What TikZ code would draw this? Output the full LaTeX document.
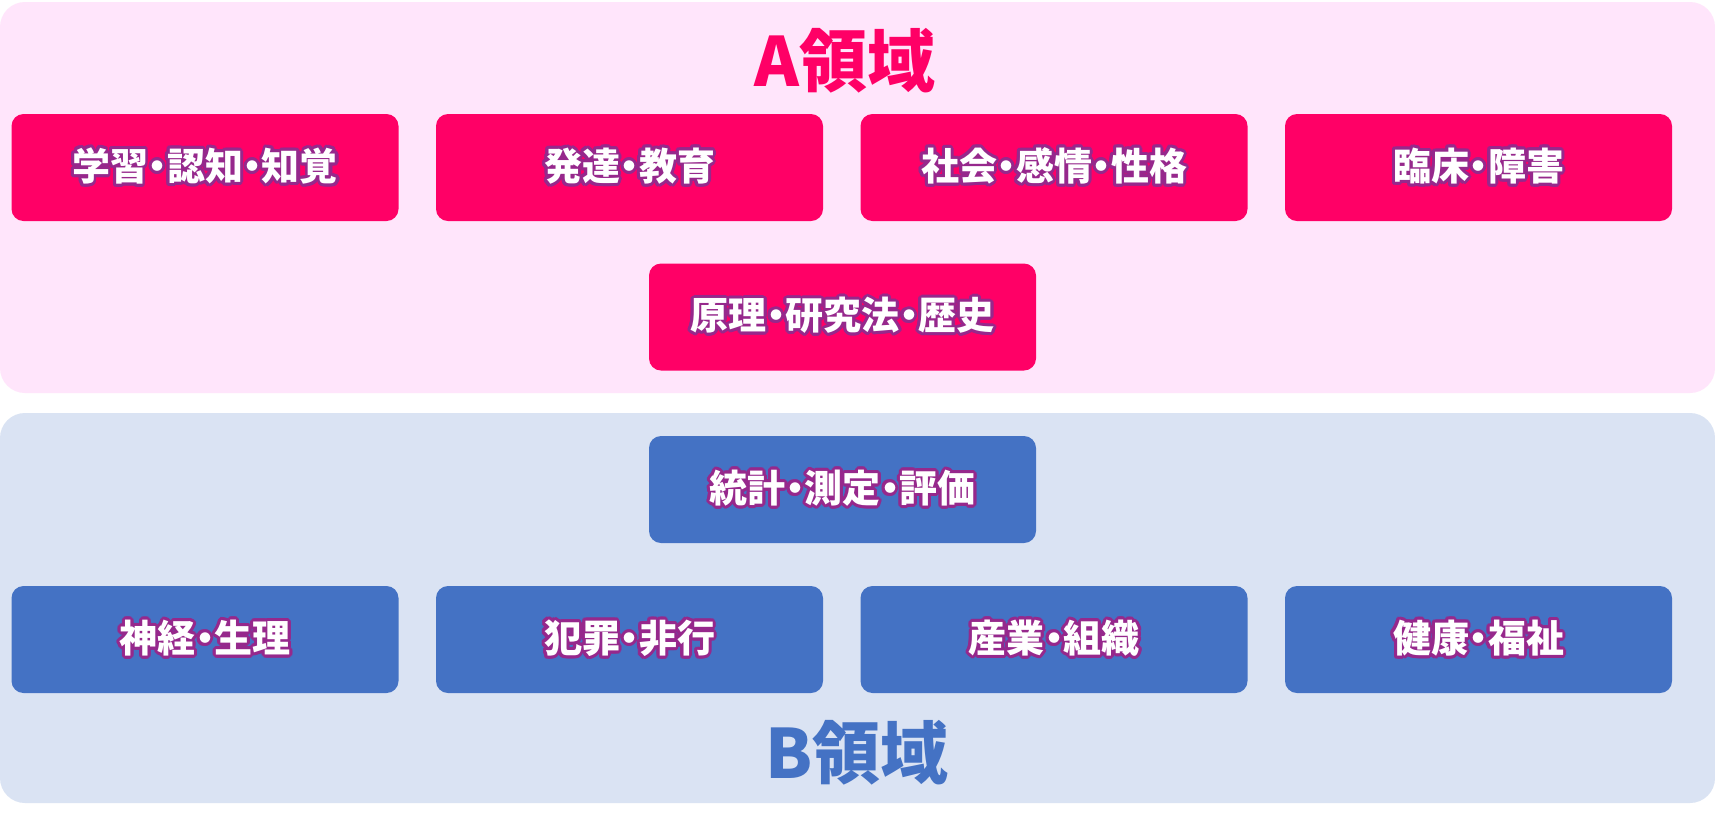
\documentclass[tikz,border=0pt]{standalone}
\usepackage{fontspec}
\usepackage{tikz}
\usepackage{contour}
\newfontfamily\jpfont[RawFeature=+palt]{Noto Sans CJK JP}
\definecolor{rosepanel}{RGB}{255, 229, 251}
\definecolor{bluepanel}{RGB}{218, 227, 243}
\definecolor{rose}{RGB}{255, 0, 102}
\definecolor{steel}{RGB}{68, 114, 196}
\definecolor{glow}{RGB}{150, 40, 140}
\contourlength{1.5pt}
\contournumber{16}
\newcommand{\glowtext}[1]{\contour{glow}{#1}}

\begin{document}
\begin{tikzpicture}[x=0.5pt, y=-0.5pt, font=\jpfont\bfseries,
  fieldbox/.style={rounded corners=6pt, minimum width=193.5pt, minimum height=53.5pt,
    inner sep=0pt, text=white, font=\jpfont\bfseries\fontsize{19}{21}\selectfont},
  fielda/.style={fieldbox, fill=rose},
  fieldb/.style={fieldbox, fill=steel},
  heading/.style={font=\jpfont\bfseries\fontsize{34}{37}\selectfont}]
  \useasboundingbox [fill=white] (0, 0) rectangle (1715, 832);

  \fill [rounded corners=12.5pt, color=rosepanel] (0, 2) rectangle (1715, 393);
  \fill [rounded corners=12.5pt, color=bluepanel] (0, 413) rectangle (1715, 803);

  \node (titleA) [heading, text=rose] at (845, 61) {A領域};
  \node (titleB) [heading, text=steel] at (857, 753) {B領域};

  % A
  \node (learn) [fielda] at (205, 167.5) {\glowtext{学習・認知・知覚}};
  \node (devel) [fielda] at (629.5, 167.5) {\glowtext{発達・教育}};
  \node (social) [fielda] at (1054, 167.5) {\glowtext{社会・感情・性格}};
  \node (clinic) [fielda] at (1478.5, 167.5) {\glowtext{臨床・障害}};
  \node (method) [fielda] at (842.5, 317) {\glowtext{原理・研究法・歴史}};

  % B
  \node (stats) [fieldb] at (842.5, 489.5) {\glowtext{統計・測定・評価}};
  \node (neuro) [fieldb] at (205, 639.5) {\glowtext{神経・生理}};
  \node (crime) [fieldb] at (629.5, 639.5) {\glowtext{犯罪・非行}};
  \node (indust) [fieldb] at (1054, 639.5) {\glowtext{産業・組織}};
  \node (health) [fieldb] at (1478.5, 639.5) {\glowtext{健康・福祉}};
\end{tikzpicture}
\end{document}
